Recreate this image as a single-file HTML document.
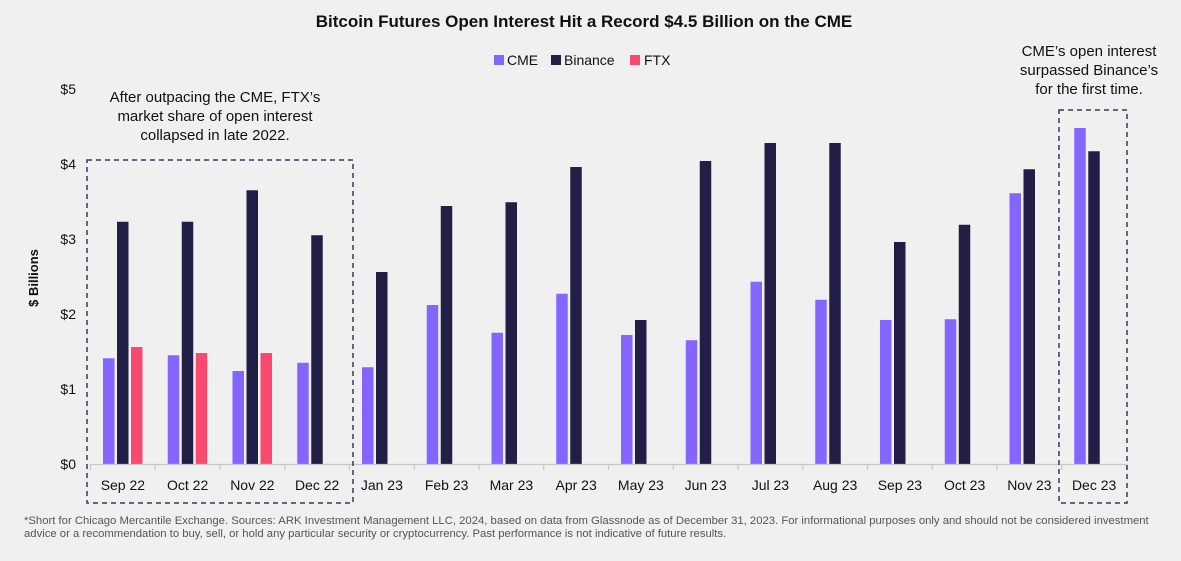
<!DOCTYPE html>
<html><head><meta charset="utf-8"><style>
body{margin:0;background:#f0f0f0;font-family:"Liberation Sans",sans-serif;}
#wrap{position:relative;width:1181px;height:561px;overflow:hidden;background:#f0f0f0}
</style></head><body>
<div id="wrap">
<svg id="svg" width="1181" height="561" xmlns="http://www.w3.org/2000/svg" font-family="Liberation Sans, sans-serif">
<text x="584" y="27" text-anchor="middle" font-size="17" font-weight="bold" fill="#111">Bitcoin Futures Open Interest Hit a Record $4.5 Billion on the CME</text>
<g font-size="14" fill="#111">
<rect x="494" y="55" width="10" height="10" fill="#8466ff"/><text x="507" y="65">CME</text>
<rect x="551" y="55" width="10" height="10" fill="#211f45"/><text x="564" y="65">Binance</text>
<rect x="630" y="55" width="10" height="10" fill="#f84a70"/><text x="644" y="65">FTX</text>
</g>
<text transform="translate(38,278) rotate(-90)" text-anchor="middle" font-size="13" font-weight="bold" fill="#111">$ Billions</text>
<g id="yt" font-size="14" fill="#111" text-anchor="end"></g>
<g id="bars"></g>
<g id="xa"></g>
<g font-size="15" fill="#111" text-anchor="middle">
<text x="215" y="102">After outpacing the CME, FTX’s</text>
<text x="215" y="121">market share of open interest</text>
<text x="215" y="140">collapsed in late 2022.</text>
</g>
<rect x="87" y="160" width="266" height="343" fill="none" stroke="#3a3360" stroke-width="1.5" stroke-dasharray="5,4"/>
<g font-size="15" fill="#111" text-anchor="middle">
<text x="1089" y="56">CME’s open interest</text>
<text x="1089" y="75">surpassed Binance’s</text>
<text x="1089" y="94">for the first time.</text>
</g>
<rect x="1059" y="110" width="68" height="393" fill="none" stroke="#3a3360" stroke-width="1.5" stroke-dasharray="5,4"/>
<g font-size="11.3" fill="#555">
<text x="24" y="524">*Short for Chicago Mercantile Exchange. Sources: ARK Investment Management LLC, 2024, based on data from Glassnode as of December 31, 2023. For informational purposes only and should not be considered investment</text>
<text x="24" y="537">advice or a recommendation to buy, sell, or hold any particular security or cryptocurrency. Past performance is not indicative of future results.</text>
</g>
</svg>
</div>
<script>
const categories=["Sep 22","Oct 22","Nov 22","Dec 22","Jan 23","Feb 23","Mar 23","Apr 23","May 23","Jun 23","Jul 23","Aug 23","Sep 23","Oct 23","Nov 23","Dec 23"];
const cme=[1.41,1.45,1.24,1.35,1.29,2.12,1.75,2.27,1.72,1.65,2.43,2.19,1.92,1.93,3.61,4.48];
const binance=[3.23,3.23,3.65,3.05,2.56,3.44,3.49,3.96,1.92,4.04,4.28,4.28,2.96,3.19,3.93,4.17];
const ftx=[1.56,1.48,1.48,0,0,0,0,0,0,0,0,0,0,0,0,0];
const yTicks=[0,1,2,3,4,5];
const yTickLabels=["$0","$1","$2","$3","$4","$5"];
const NS="http://www.w3.org/2000/svg";
const x0=90.5,cw=64.75,y0=464,yPer=75;
const y=v=>y0-v*yPer;
const xc=i=>x0+i*cw;
function mk(t,a,p){const e=document.createElementNS(NS,t);for(const k in a)e.setAttribute(k,a[k]);p.appendChild(e);return e;}
const yt=document.getElementById('yt');
yTicks.forEach((v,i)=>{const t=mk('text',{x:76,y:y(v)+5},yt);t.textContent=yTickLabels[i];

});
const bars=document.getElementById('bars');
const series=[[cme,"#8466ff","cme"],[binance,"#211f45","binance"],[ftx,"#f84a70","ftx"]];
categories.forEach((c,i)=>{series.forEach((s,k)=>{const v=s[0][i];if(!v)return;
const r=mk('rect',{x:xc(i)+12.5+k*14,y:y(v),width:11.5,height:v*yPer,fill:s[1]},bars);

});});
const xa=document.getElementById('xa');
const ax=mk('line',{x1:x0,x2:xc(categories.length),y1:y0+0.5,y2:y0+0.5,stroke:"#c8c8c8","stroke-width":1.2},xa);


for(let i=0;i<=categories.length;i++){mk('line',{x1:xc(i),x2:xc(i),y1:y0,y2:y0+6,stroke:"#c8c8c8","stroke-width":1.2},xa);}
categories.forEach((c,i)=>{const t=mk('text',{x:xc(i)+cw/2,y:490,"text-anchor":"middle","font-size":14,fill:"#111"},xa);t.textContent=c;

});
</script>
</body></html>
